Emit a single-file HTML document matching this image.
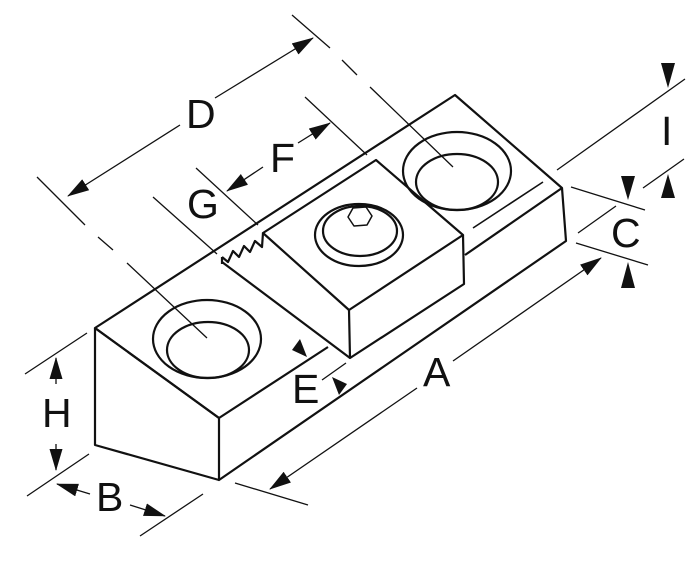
<!DOCTYPE html>
<html><head><meta charset="utf-8"><style>
html,body{margin:0;padding:0;background:#fff;}
svg{display:block;}
text{font-family:"Liberation Sans",sans-serif;font-size:41px;fill:#111;}
</style></head><body>
<svg width="699" height="566" viewBox="0 0 699 566" xmlns="http://www.w3.org/2000/svg">
<defs>
<marker id="ah" markerWidth="22" markerHeight="14" refX="21" refY="6.5" orient="auto" markerUnits="userSpaceOnUse">
<path d="M0,0 L22,6.5 L0,13 Z" fill="#111"/></marker>
</defs>
<g fill="none" stroke="#111" stroke-width="2.2" stroke-linejoin="round">
<path d="M95,328 L455,95 L562,188 L566,241 L219,480 L219,418 Z"/>
<path d="M95,328 L95,445 L219,480"/>
<path d="M95,328 L219,418 L328,347"/>
<path d="M465,255 L562,188"/>
<path d="M473,228 L543,182" stroke-width="1.6"/>
<path d="M263,233 L376,160 L463,235 L349,310 Z" fill="#fff"/>
<path d="M349,310 L350,358 L464,284 L463,235"/>
<path d="M222,262 L350,358"/>
<path d="M222,257 L222,264"/>
<path d="M222,257 L228,262 L233,251 L239,257 L244,246 L250,252 L255,241 L262,247 L263,233"/>
<ellipse cx="207" cy="339" rx="54" ry="39"/>
<ellipse cx="208" cy="350" rx="41" ry="28"/>
<ellipse cx="457" cy="171" rx="54" ry="39"/>
<ellipse cx="457" cy="182" rx="41" ry="28"/>
<ellipse cx="359" cy="235" rx="44" ry="31"/>
<ellipse cx="360" cy="231" rx="37" ry="25"/>
<path d="M353,208 L366,207 L372,216 L367,225 L354,226 L348,217 Z" stroke-width="1.5"/>
</g>
<g fill="none" stroke="#111" stroke-width="1.3">
<path d="M292,15 L330,48 M342,60 L357,75 M370,87 L453,167"/>
<path d="M37,177 L85,225 M98,237 L113,250 M127,263 L207,338"/>
<path d="M180,125 L68,196" marker-end="url(#ah)"/>
<path d="M215,98 L313,38" marker-end="url(#ah)"/>
<path d="M305,97 L367,155"/>
<path d="M298,143 L330,123" marker-end="url(#ah)"/>
<path d="M263,167 L227,191" marker-end="url(#ah)"/>
<path d="M196,168 L258,225"/>
<path d="M153,197 L217,254"/>
<path d="M322,380 L346,363"/>
<path d="M235,483 L308,505"/>
<path d="M417,388 L270,489" marker-end="url(#ah)"/>
<path d="M453,361 L601,258" marker-end="url(#ah)"/>
<path d="M571,187 L645,210 M578,233 L616,206 M576,243 L648,265"/>
<path d="M557,170 L685,79 M643,188 L684,159"/>
<path d="M25,374 L87,333 M27,496 L89,454"/>
<path d="M56,384 L56,358" marker-end="url(#ah)"/>
<path d="M56,444 L56,470" marker-end="url(#ah)"/>
<path d="M90,494 L57,484" marker-end="url(#ah)"/>
<path d="M130,505 L165,516" marker-end="url(#ah)"/>
<path d="M140,536 L203,494"/>
</g>
<g fill="#111">
<polygon points="307,357 292,350 300,339"/>
<polygon points="332,377 347,384 339,395"/>
<polygon points="668,88 661,63 675,63"/>
<polygon points="668,174 661,198 675,198"/>
<polygon points="628,200 621,176 635,176"/>
<polygon points="628,262 621,288 635,288"/>
</g>
<text x="186" y="128">D</text>
<text x="270" y="172">F</text>
<text x="187" y="218">G</text>
<text x="292" y="403">E</text>
<text x="423" y="386">A</text>
<text x="611" y="247">C</text>
<text x="661" y="145">I</text>
<text x="42" y="427">H</text>
<text x="96" y="511">B</text>
</svg>
</body></html>
